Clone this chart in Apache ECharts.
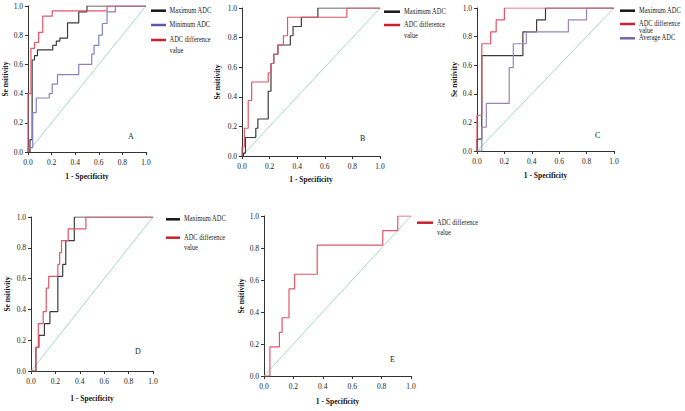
<!DOCTYPE html>
<html>
<head>
<meta charset="utf-8">
<script src="https://cdn.jsdelivr.net/npm/echarts@6/dist/echarts.min.js"></script>
<style>html,body{margin:0;padding:0;background:#fff}#c{width:685px;height:411px}</style>
</head>
<body>
<div id="c"></div>
<script>
// ---- data (ROC operating points: [1 - specificity, sensitivity]) ----
const tickLabels = ['0.0', '0.2', '0.4', '0.6', '0.8', '1.0'];
const chanceLine = [[0, 0], [1, 1]];

const aMaxADC  = [[0,0],[0.017,0.085],[0.035,0.63],[0.055,0.66],[0.08,0.70],[0.21,0.73],[0.24,0.76],[0.27,0.78],[0.335,0.885],[0.43,0.96],[0.5,1],[1,1]];
const aMinADC  = [[0,0],[0,0.03],[0.04,0.27],[0.07,0.37],[0.18,0.40],[0.205,0.465],[0.25,0.53],[0.43,0.60],[0.54,0.67],[0.56,0.73],[0.6,0.80],[0.63,0.88],[0.67,0.96],[0.74,1],[1,1]];
const aDiffADC = [[0,0],[0,0.4],[0.025,0.71],[0.055,0.75],[0.09,0.82],[0.125,0.93],[0.205,0.966],[0.67,1],[1,1]];

const bMaxADC  = [[0,0],[0.01,0.02],[0.025,0.125],[0.1,0.1875],[0.115,0.25],[0.19,0.4375],[0.21,0.625],[0.23,0.6875],[0.26,0.75],[0.35,0.8125],[0.37,0.875],[0.43,0.9375],[0.55,1],[1,1]];
const bDiffADC = [[0,0],[0,0.0625],[0.017,0.1875],[0.045,0.375],[0.07,0.5],[0.19,0.5625],[0.21,0.625],[0.23,0.6875],[0.26,0.75],[0.3,0.8125],[0.33,0.9375],[0.76,1],[1,1]];

const cMaxADC  = [[0,0],[0,0.083],[0.035,0.667],[0.335,0.833],[0.435,0.917],[0.5,1],[1,1]];
const cDiffADC = [[0,0],[0,0.25],[0.035,0.75],[0.1,0.833],[0.14,0.917],[0.2,1],[1,1]];
const cAvgADC  = [[0,0],[0.035,0.167],[0.068,0.333],[0.235,0.583],[0.265,0.75],[0.36,0.833],[0.667,0.917],[0.8,1],[1,1]];

const dMaxADC  = [[0,0],[0.04,0.154],[0.065,0.231],[0.11,0.308],[0.155,0.385],[0.22,0.615],[0.26,0.692],[0.285,0.846],[0.355,1],[1,1]];
const dDiffADC = [[0,0],[0.04,0.154],[0.06,0.308],[0.1,0.385],[0.125,0.538],[0.145,0.615],[0.22,0.692],[0.235,0.769],[0.25,0.846],[0.305,0.923],[0.45,1],[1,1]];

const eDiffADC = [[0,0],[0.04,0.182],[0.105,0.273],[0.123,0.364],[0.17,0.545],[0.208,0.636],[0.362,0.818],[0.808,0.909],[0.91,1],[1,1]];

const panelLetters = ['A', 'B', 'C', 'D', 'E'];
const xName = '1 - Specificity';
const yName = 'Se nsitivity';
const nameMax = 'Maximum ADC', nameMin = 'Minimum ADC', nameDiff = 'ADC difference\nvalue', nameAvg = 'Average ADC';

// ---- styles / layout ----
const FONT = '"Liberation Serif", "Times New Roman", serif';
const C_BLACK = '#3c3c3c', C_RED = '#e2566a', C_BLUE = '#8482c2', C_PURPLE = '#9686bc', C_DIAG = '#a9d6c3';
const L_BLACK = '#151515', L_RED = '#cc2030', L_BLUE = '#5d57a8', L_PURPLE = '#7a62a8';

const panels = [
  {grid:{left:28, top:6, width:118, height:146}, xGap:20, yGap:18, letter:[131,137],
   series:[[nameMax,aMaxADC,C_BLACK],[nameMin,aMinADC,C_BLUE],[nameDiff,aDiffADC,C_RED]],
   legend:{x1:151, x2:166, tx:169.5, items:[[nameMax,10.7,L_BLACK,11],[nameMin,25,L_BLUE,11],[nameDiff,40,L_RED,11]]}},
  {grid:{left:242, top:8, width:138, height:148}, xGap:19.5, yGap:21, letter:[363,139],
   series:[[nameMax,bMaxADC,C_BLACK],[nameDiff,bDiffADC,C_RED]],
   legend:{x1:384, x2:400, tx:404, items:[[nameMax,11.7,L_BLACK,11],[nameDiff,25,L_RED,10.7]]}},
  {grid:{left:477, top:8, width:137, height:143}, xGap:20, yGap:19, letter:[598,136],
   series:[[nameMax,cMaxADC,C_BLACK],[nameAvg,cAvgADC,C_PURPLE],[nameDiff,cDiffADC,C_RED]],
   legend:{x1:620, x2:635, tx:639, items:[[nameMax,10.7,L_BLACK,7.5],[nameDiff,24,L_RED,7],[nameAvg,38.3,L_PURPLE,7.5]]}},
  {grid:{left:31, top:217, width:122, height:154}, xGap:23.5, yGap:20, letter:[138,352],
   series:[[nameMax,dMaxADC,C_BLACK],[nameDiff,dDiffADC,C_RED]],
   legend:{x1:166, x2:180, tx:184, items:[[nameMax,219.3,L_BLACK,11],[nameDiff,237.7,L_RED,10]]}},
  {grid:{left:264, top:216, width:147, height:160}, xGap:21.5, yGap:13, letter:[393,360],
   series:[[nameDiff,eDiffADC,C_RED]],
   legend:{x1:417, x2:433, tx:437, items:[[nameDiff,222.7,L_RED,10.6]]}}
];

const grid = [], xAxis = [], yAxis = [], series = [], graphic = [];
panels.forEach((p, i) => {
  grid.push(Object.assign({containLabel:false}, p.grid));
  const axisCommon = {
    gridIndex: i, type: 'value', min: 0, max: 1, interval: 0.2,
    axisLine: {show: true, lineStyle: {color: '#333', width: 1}},
    axisTick: {show: true, length: 3, lineStyle: {color: '#333', width: 1}},
    splitLine: {show: false},
    axisLabel: {formatter: v => tickLabels[Math.round(v / 0.2)], fontFamily: FONT, fontSize: 7.5, color: '#222'},
    nameLocation: 'middle',
    nameTextStyle: {fontFamily: FONT, fontSize: 7.5, fontWeight: 'bold', color: '#111'}
  };
  xAxis.push(Object.assign({}, axisCommon, {name: xName, nameGap: p.xGap,
    axisLabel: Object.assign({}, axisCommon.axisLabel, {margin: 6})}));
  yAxis.push(Object.assign({}, axisCommon, {name: yName, nameGap: p.yGap,
    axisLabel: Object.assign({}, axisCommon.axisLabel, {margin: 5})}));
  series.push({type:'line', xAxisIndex:i, yAxisIndex:i, data: chanceLine, showSymbol:false, silent:true,
    lineStyle:{color:C_DIAG, width:1}, itemStyle:{color:C_DIAG}, z:1});
  p.series.forEach(([name, data, color]) => {
    series.push({type:'line', name, xAxisIndex:i, yAxisIndex:i, data, step:'end', showSymbol:false,
      lineStyle:{color, width:1.2}, itemStyle:{color}, z:2});
  });
  graphic.push({type:'text', x: p.letter[0] - 3, y: p.letter[1] - 5,
    style:{text: panelLetters[i], font: '8px ' + FONT, fill:'#222'}});
  p.legend.items.forEach(([name, y, color, lh]) => {
    graphic.push({type:'line', shape:{x1:p.legend.x1, y1:y, x2:p.legend.x2, y2:y},
      style:{stroke: color, lineWidth: 2.5}});
    graphic.push({type:'text', x: p.legend.tx, y: y - lh / 2, scaleX: 0.86,
      style:{text: name, x: 0, y: 0, font: '7.5px ' + FONT, fill:'#222', lineHeight: lh, verticalAlign:'top', align:'left'}});
  });
});

const chart = echarts.init(document.getElementById('c'), null, {renderer:'svg'});
chart.setOption({animation:false, backgroundColor:'#fff', grid, xAxis, yAxis, series, graphic});
</script>
</body>
</html>
